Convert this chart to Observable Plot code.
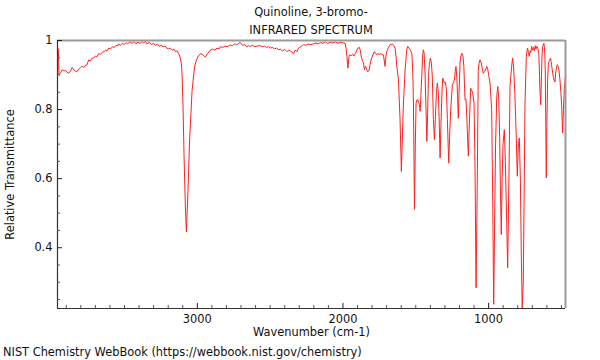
<!DOCTYPE html>
<html>
<head>
<meta charset="utf-8">
<script src="https://cdn.jsdelivr.net/npm/d3@7"></script>
<script src="https://cdn.jsdelivr.net/npm/@observablehq/plot@0.6"></script>
<style>
  html, body { margin: 0; padding: 0; background: #fff; }
  #wrap { position: relative; width: 600px; height: 360px; font-family: "DejaVu Sans", sans-serif; color: #111; }
  .t { position: absolute; font-size: 11.4px; white-space: nowrap; }
  #chart { position: absolute; left: 0; top: 0; }
</style>
</head>
<body>
<div id="wrap">
  <div id="chart"></div>
  <div class="t" style="left:57px;width:508px;text-align:center;top:5px;">Quinoline, 3-bromo-</div>
  <div class="t" style="left:57px;width:508px;text-align:center;top:23px;">INFRARED SPECTRUM</div>
  <div class="t" style="left:3px;top:345px;">NIST Chemistry WebBook (https://webbook.nist.gov/chemistry)</div>
</div>
<script>
const titleLines = ["Quinoline, 3-bromo-", "INFRARED SPECTRUM"];
const xLabel = "Wavenumber (cm-1)";
const yLabel = "Relative Transmittance";
const xTickLabels = [1000, 2000, 3000];
const yTickLabels = [0.4, 0.6, 0.8, 1];

const wavenumber = [
3958,3954,3950,3940,3928,3915,3905,3895,3883,3870,3859,3848,3838,3825,3812,3800,3791,3778,3768,3757,
3746,3735,3724,3711,3700,3690,3677,3665,3652,3640,3630,3620,3608,3595,3583,3570,3558,3548,3540,3528,
3515,3502,3490,3478,3465,3448,3435,3420,3408,3395,3380,3368,3357,3345,3330,3315,3300,3288,3275,3260,
3248,3235,3220,3210,3197,3185,3172,3160,3151,3140,3128,3117,3110,3105,3098,3091,3082,3075,3064,3053,
3036,3019,3005,2991,2975,2960,2945,2930,2911,2895,2880,2865,2850,2842,2825,2810,2795,2774,2760,2745,
2730,2715,2705,2690,2675,2660,2648,2636,2620,2605,2590,2568,2555,2540,2525,2510,2499,2485,2470,2455,
2440,2431,2415,2400,2385,2372,2362,2350,2339,2328,2315,2305,2290,2271,2255,2240,2220,2202,2185,2170,
2156,2140,2120,2105,2088,2070,2050,2035,2019,2000,1985,1978,1973,1966,1960,1955,1945,1935,1925,1915,
1905,1898,1887,1880,1875,1865,1859,1852,1845,1838,1832,1822,1815,1807,1795,1784,1775,1767,1758,1750,
1742,1733,1722,1711,1705,1699,1688,1676,1660,1650,1642,1636,1630,1619,1608,1599,1592,1585,1573,1562,
1555,1547,1539,1527,1520,1516,1509,1503,1498,1492,1486,1480,1475,1470,1464,1459,1453,1448,1443,1436,
1431,1424,1418,1413,1406,1400,1394,1387,1379,1372,1365,1358,1352,1345,1340,1333,1327,1320,1315,1310,
1304,1297,1290,1283,1274,1268,1260,1249,1240,1235,1229,1224,1218,1213,1208,1203,1196,1190,1184,1176,
1170,1162,1155,1148,1139,1132,1123,1116,1109,1100,1093,1086,1080,1077,1071,1065,1059,1050,1042,1036,
1030,1025,1018,1013,1005,998,990,985,979,972,965,958,952,944,937,930,924,918,913,907,
901,892,885,877,869,862,856,853,842,835,828,820,810,803,796,789,782,776,769,762,
756,750,741,735,732,727,721,715,710,704,698,692,686,680,675,670,662,655,650,647,
642,637,633,629,620,615,611,607,604,600,595,590,586,580,574,568,563,556,551,544,
540,535,529,523,517,510,504,498,492,486,480,474
];
const transmittance = [
0.978,0.975,0.900,0.905,0.915,0.912,0.913,0.908,0.905,0.912,0.922,0.915,0.912,0.910,0.918,0.922,0.926,0.922,0.928,0.930,
0.944,0.940,0.948,0.950,0.955,0.953,0.962,0.960,0.966,0.968,0.972,0.970,0.978,0.976,0.982,0.980,0.986,0.984,0.990,0.986,
0.992,0.988,0.994,0.990,0.996,0.992,0.997,0.990,0.996,0.991,0.997,0.993,0.998,0.990,0.995,0.988,0.992,0.986,0.990,0.983,
0.986,0.982,0.984,0.978,0.976,0.978,0.972,0.975,0.968,0.970,0.962,0.950,0.935,0.905,0.807,0.663,0.518,0.446,0.566,0.711,
0.855,0.923,0.945,0.957,0.962,0.958,0.952,0.962,0.972,0.975,0.972,0.978,0.976,0.982,0.980,0.984,0.982,0.987,0.985,0.990,
0.988,0.992,0.994,0.986,0.988,0.982,0.985,0.983,0.986,0.982,0.984,0.985,0.982,0.984,0.980,0.982,0.978,0.980,0.976,0.978,
0.973,0.975,0.970,0.974,0.968,0.972,0.970,0.966,0.962,0.972,0.968,0.978,0.982,0.988,0.986,0.990,0.988,0.990,0.993,0.990,
0.994,0.992,0.996,0.991,0.995,0.993,0.996,0.992,0.995,0.993,0.992,0.975,0.954,0.920,0.950,0.958,0.956,0.960,0.955,0.962,
0.972,0.978,0.980,0.970,0.954,0.940,0.935,0.915,0.925,0.918,0.910,0.912,0.928,0.944,0.958,0.968,0.962,0.959,0.963,0.958,
0.962,0.960,0.958,0.925,0.955,0.968,0.980,0.988,0.990,0.985,0.978,0.955,0.925,0.886,0.771,0.621,0.720,0.819,0.915,0.973,
0.983,0.978,0.973,0.963,0.900,0.819,0.511,0.700,0.819,0.828,0.829,0.820,0.814,0.795,0.850,0.896,0.955,0.973,0.965,0.900,
0.819,0.708,0.800,0.896,0.935,0.949,0.940,0.900,0.771,0.713,0.780,0.850,0.877,0.850,0.780,0.660,0.760,0.850,0.891,0.885,
0.877,0.880,0.860,0.771,0.645,0.720,0.800,0.872,0.880,0.886,0.910,0.925,0.890,0.840,0.775,0.850,0.935,0.955,0.963,0.955,
0.925,0.829,0.830,0.760,0.665,0.760,0.862,0.855,0.848,0.819,0.626,0.284,0.500,0.626,0.915,0.935,0.944,0.935,0.915,0.905,
0.910,0.912,0.918,0.925,0.915,0.895,0.877,0.840,0.800,0.550,0.236,0.500,0.700,0.838,0.867,0.830,0.720,0.550,0.438,0.600,
0.700,0.742,0.650,0.500,0.342,0.550,0.750,0.867,0.925,0.949,0.920,0.850,0.720,0.607,0.694,0.718,0.600,0.400,0.220,0.300,
0.550,0.819,0.954,0.975,0.978,0.965,0.954,0.970,0.965,0.983,0.972,0.980,0.970,0.985,0.975,0.983,0.978,0.960,0.896,0.850,
0.814,0.900,0.960,0.983,0.992,0.970,0.915,0.750,0.602,0.750,0.880,0.930,0.939,0.945,0.949,0.930,0.915,0.895,0.886,0.880,
0.905,0.918,0.930,0.925,0.915,0.886,0.850,0.809,0.732,0.800,0.860,0.891
];

const spectrum = wavenumber.map((w, i) => ({wn: w, t: transmittance[i]}));
const xMinor = d3.range(500, 4000, 100).filter(v => v % 1000 !== 0);
const yMinor = d3.range(0.25, 1.0001, 0.05).map(v => +v.toFixed(2)).filter(v => !yTickLabels.includes(v));

const xDomain = [3960, 472];
const yDomain = [0.224, 1.0];
const frameH = 360 - 40 - 52;
const frameW = 600 - 57 - 35;

const chart = Plot.plot({
  width: 600,
  height: 360,
  marginTop: 40,
  marginBottom: 52,
  marginLeft: 57,
  marginRight: 35,
  style: {fontFamily: "DejaVu Sans, sans-serif", fontSize: "11.4px", color: "#111", background: "transparent"},
  x: {domain: xDomain, label: null},
  y: {domain: yDomain, label: null},
  marks: [
    Plot.line(spectrum, {x: "wn", y: "t", stroke: "#ff2020", strokeWidth: 1, clip: true}),
    Plot.ruleY([yDomain[1]], {stroke: "#9a9a9a", strokeWidth: 2}),
    Plot.ruleX([xDomain[1]], {stroke: "#9a9a9a", strokeWidth: 2}),
    Plot.ruleY([yDomain[0]], {stroke: "#333", strokeWidth: 1.2}),
    Plot.ruleX([xDomain[0]], {stroke: "#333", strokeWidth: 1.2}),
    Plot.tickX(xMinor, {x: d => d, stroke: "#555", insetTop: frameH - 3}),
    Plot.tickX(xTickLabels, {x: d => d, stroke: "#222", insetTop: frameH - 5}),
    Plot.tickY(yMinor, {y: d => d, stroke: "#555", insetRight: frameW - 3}),
    Plot.tickY(yTickLabels, {y: d => d, stroke: "#222", insetRight: frameW - 5}),
    Plot.axisX(xTickLabels, {tickSize: 0, tickPadding: 6, label: null, tickFormat: d => String(d)}),
    Plot.axisY(yTickLabels, {tickSize: 0, tickPadding: 5, label: null, tickFormat: d => String(d)}),
    Plot.text([xLabel], {frameAnchor: "bottom", dy: 24, lineAnchor: "middle", textAnchor: "middle", fill: "#111"}),
    Plot.text([yLabel], {frameAnchor: "left", rotate: -90, dx: -47, lineAnchor: "middle", textAnchor: "middle", fill: "#111"})
  ]
});
document.getElementById("chart").appendChild(chart);
</script>
</body>
</html>
